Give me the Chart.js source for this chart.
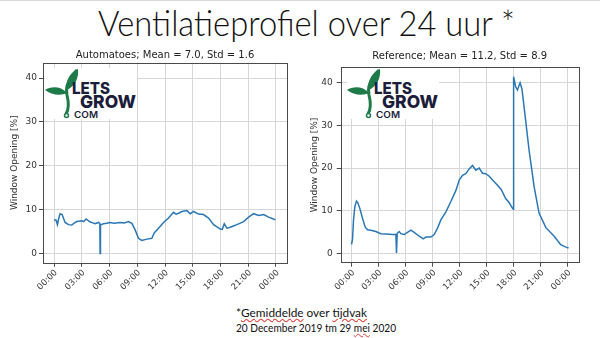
<!DOCTYPE html>
<html>
<head>
<meta charset="utf-8">
<script src="https://cdn.jsdelivr.net/npm/chart.js@4.4.0/dist/chart.umd.min.js"></script>
<style>
body { margin: 0; width: 600px; height: 338px; position: relative; overflow: hidden; background: #fff; }
.topline { position: absolute; left: 0; top: 0; width: 600px; height: 1px; background: #d9d9d9; }
#titel { position: absolute; left: 0; top: 0; white-space: nowrap; font-family: Lato, sans-serif; font-weight: 300; font-size: 36px; color: #111; transform-origin: 0 0; }
canvas { position: absolute; }
.logo { position: absolute; top: 68px; }
.voetnoot { position: absolute; left: 236px; font-family: Lato, sans-serif; font-size: 11.5px; line-height: 14px; color: #111; white-space: nowrap; transform-origin: 0 0; }
.rood { text-decoration: underline wavy #e04040; text-decoration-thickness: 1px; text-underline-offset: 1px; }
</style>
</head>
<body>
<div class="topline"></div>
<div id="titel">Ventilatieprofiel over 24 uur *</div>
<canvas id="automatoes" width="300" height="256" style="left:0;top:44px"></canvas>
<canvas id="referentie" width="300" height="256" style="left:300px;top:44px"></canvas>

<svg class="logo" style="left:45px" width="92" height="51" viewBox="0 0 92 51">
  <rect width="92" height="51" fill="#fff"/>
  <path d="M32,2 C24,10 20,18 22,27 C24,35 24,41 21,46" stroke="#1f7a4a" stroke-width="3" fill="none"/>
  <circle cx="21.5" cy="47.5" r="2" stroke="#1f7a4a" stroke-width="1.5" fill="#fff"/>
  <path d="M22,22 C20,12 26,4 33,1 C34,10 30,18 22,22 Z" fill="#1f7a4a"/>
  <path d="M22,25 C16,18 6,18 0,22 C6,27 16,28 22,25 Z" fill="#1f7a4a"/>
  <text x="27" y="25.5" font-family="Inter" font-weight="800" font-size="16" fill="#1b1d3a" textLength="38" lengthAdjust="spacingAndGlyphs">LETS</text>
  <text x="35" y="40" font-family="Inter" font-weight="800" font-size="18" fill="#1b1d3a" textLength="56" lengthAdjust="spacingAndGlyphs">GROW</text>
  <text x="29" y="50.3" font-family="Inter" font-weight="600" font-size="9" fill="#1b1d3a" textLength="24" lengthAdjust="spacingAndGlyphs">COM</text>
</svg>
<svg class="logo" style="left:347px" width="92" height="51" viewBox="0 0 92 51">
  <rect width="92" height="51" fill="#fff"/>
  <path d="M32,2 C24,10 20,18 22,27 C24,35 24,41 21,46" stroke="#1f7a4a" stroke-width="3" fill="none"/>
  <circle cx="21.5" cy="47.5" r="2" stroke="#1f7a4a" stroke-width="1.5" fill="#fff"/>
  <path d="M22,22 C20,12 26,4 33,1 C34,10 30,18 22,22 Z" fill="#1f7a4a"/>
  <path d="M22,25 C16,18 6,18 0,22 C6,27 16,28 22,25 Z" fill="#1f7a4a"/>
  <text x="27" y="25.5" font-family="Inter" font-weight="800" font-size="16" fill="#1b1d3a" textLength="38" lengthAdjust="spacingAndGlyphs">LETS</text>
  <text x="35" y="40" font-family="Inter" font-weight="800" font-size="18" fill="#1b1d3a" textLength="56" lengthAdjust="spacingAndGlyphs">GROW</text>
  <text x="29" y="50.3" font-family="Inter" font-weight="600" font-size="9" fill="#1b1d3a" textLength="24" lengthAdjust="spacingAndGlyphs">COM</text>
</svg>

<div class="voetnoot" id="regel1" style="top:306px">*<span class="rood">Gemiddelde</span> over <span class="rood">tijdvak</span></div>
<div class="voetnoot" id="regel2" style="top:321px">20 December 2019 tm 29 <span class="rood">mei</span> 2020</div>

<script>
// uren van de dag en raamopening [%]
const urenAutomatoes = [0, 0.22, 0.36, 0.5, 0.65, 0.87, 1.19, 1.55, 1.91, 2.2,
    2.45, 3.0, 3.2, 3.47, 3.9, 4.2, 4.44, 4.8, 4.95, 4.98,
    5.02, 5.09, 5.34, 5.7, 6.06, 6.5, 7.15, 7.6, 8.05, 8.41,
    8.77, 9.13, 9.49, 10.04, 10.58, 10.83, 11.3, 11.84, 12.38, 12.92,
    13.2, 13.47, 13.83, 14.37, 14.73, 15.09, 15.63, 16.17, 16.71, 17.26,
    17.98, 18.2, 18.41, 18.7, 19.06, 19.4, 19.78, 20.51, 21.05, 21.59,
    22.14, 22.67, 23.21, 23.94];
const opening_automatoes = [7.7, 7.6, 6.6, 8.0, 9.1, 8.9, 7.1, 6.6, 6.5, 7.0,
    7.3, 7.5, 7.3, 7.9, 7.2, 7.0, 6.8, 7.1, 6.9, 0,
    6.4, 6.6, 6.8, 6.9, 7.1, 6.9, 7.1, 7.0, 7.3, 6.9,
    5.4, 3.5, 3.0, 3.3, 3.5, 4.7, 5.8, 7.1, 8.1, 9.4,
    9.0, 9.2, 9.6, 9.8, 9.1, 9.6, 9.0, 8.9, 8.1, 6.6,
    5.6, 5.5, 6.8, 5.8, 6.0, 6.3, 6.6, 7.3, 8.3, 9.1,
    8.7, 8.9, 8.3, 7.7];

const urenReferentie = [0, 0.11, 0.22, 0.37, 0.55, 0.70, 0.92, 1.22, 1.52, 1.78,
    2.14, 2.70, 3.25, 3.81, 4.55, 4.92, 4.99, 5.07, 5.29, 5.47,
    5.84, 6.21, 6.58, 6.95, 7.51, 7.95, 8.25, 8.80, 9.17, 9.54,
    9.91, 10.47, 11.02, 11.58, 11.95, 12.31, 12.68, 13.05, 13.42, 13.79,
    14.16, 14.53, 14.9, 15.27, 15.64, 16.2, 16.6, 17.1, 17.5, 17.86,
    17.95, 17.98, 18.2, 18.4, 18.7, 18.9, 19.15, 19.7, 20.26, 20.8,
    21.56, 22.48, 23.2, 23.96, 24.0];
const opening_referentie = [2.2, 3.3, 7.9, 11.0, 12.3, 11.9, 10.6, 8.3, 6.2, 5.6,
    5.5, 5.2, 4.7, 4.6, 4.5, 4.5, 0.2, 4.8, 5.2, 4.7,
    4.5, 5.0, 5.5, 5.0, 4.1, 3.5, 3.9, 3.9, 4.5, 6.0,
    7.9, 9.8, 12.2, 14.8, 17.2, 18.3, 18.7, 19.8, 20.6, 19.5,
    20.0, 18.8, 18.7, 18.1, 17.2, 16.0, 15.0, 12.9, 11.9, 10.6,
    10.4, 41.3, 39.0, 38.2, 39.9, 38.5, 34.1, 24.1, 15.6, 9.5,
    6.1, 4.1, 2.15, 1.4, 1.6];

const xTicks = [0, 3, 6, 9, 12, 15, 18, 21, 24];
const yTicks = [0, 10, 20, 30, 40];

// lijst om het plotvlak (zoals matplotlib)
const kader = {
    id: 'kader',
    afterDraw(chart) {
        const a = chart.chartArea;
        const ctx = chart.ctx;
        ctx.save();
        ctx.strokeStyle = '#4a4a4a';
        ctx.lineWidth = 1;
        ctx.strokeRect(Math.round(a.left) + 0.5, Math.round(a.top) + 0.5,
            Math.round(a.right - a.left), Math.round(a.bottom - a.top));
        ctx.restore();
    }
};

function maakGrafiek(id, uren, waarden, titel, opties) {
    const ctx = document.getElementById(id).getContext('2d');
    return new Chart(ctx, {
        type: 'line',
        data: {
            datasets: [{
                data: uren.map((u, i) => ({ x: u, y: waarden[i] })),
                borderColor: '#2a77b4',
                borderWidth: 1.5,
                pointRadius: 0,
                tension: 0,
                fill: false
            }]
        },
        options: {
            responsive: false,
            animation: false,
            devicePixelRatio: 1,
            layout: { padding: { left: 0, right: opties.rechts, top: 0, bottom: 0 } },
            plugins: {
                legend: { display: false },
                tooltip: { enabled: false },
                title: {
                    display: true,
                    fullSize: false,
                    text: titel,
                    color: '#222',
                    font: { family: 'DejaVu Sans', size: 10, weight: 'normal' },
                    padding: { top: opties.titelBoven, bottom: opties.titelOnder }
                }
            },
            scales: {
                x: {
                    type: 'linear',
                    min: -1.2,
                    max: 25.2,
                    afterBuildTicks: s => { s.ticks = xTicks.map(v => ({ value: v })); },
                    afterFit: s => { s.height = 37.3; },
                    grid: { color: '#d6d6d6', tickColor: '#4a4a4a', tickLength: 4 },
                    border: { display: false },
                    ticks: {
                        autoSkip: false,
                        minRotation: 45,
                        maxRotation: 45,
                        padding: 1,
                        labelOffset: 2,
                        color: '#333',
                        font: { family: 'DejaVu Sans', size: 8.5 },
                        callback: v => String(v % 24).padStart(2, '0') + ':00'
                    }
                },
                y: {
                    min: -2.07,
                    max: 43.5,
                    afterBuildTicks: s => { s.ticks = yTicks.map(v => ({ value: v })); },
                    afterFit: s => { s.width = opties.yBreedte; },
                    grid: { color: '#d6d6d6', tickColor: '#4a4a4a', tickLength: 4 },
                    border: { display: false },
                    ticks: {
                        padding: opties.yPadding,
                        color: '#333',
                        font: { family: 'DejaVu Sans', size: 9 }
                    },
                    title: {
                        display: true,
                        text: 'Window Opening [%]',
                        color: '#333',
                        font: { family: 'DejaVu Sans', size: 9 },
                        padding: { top: 9.6, bottom: 0 }
                    }
                }
            }
        },
        plugins: [kader]
    });
}

maakGrafiek('automatoes', urenAutomatoes, opening_automatoes,
    'Automatoes; Mean = 7.0, Std = 1.6',
    { rechts: 13, titelBoven: 5, titelOnder: 1.7, yBreedte: 43, yPadding: 2 });
maakGrafiek('referentie', urenReferentie, opening_referentie,
    'Reference; Mean = 11.2, Std = 8.9',
    { rechts: 21.3, titelBoven: 6.7, titelOnder: 4.6, yBreedte: 40.7, yPadding: 4 });

// titel en voetnoot op breedte brengen
function opBreedte(el, breedte) {
    const b = el.getBoundingClientRect().width;
    el.style.transform = 'scaleX(' + (breedte / b) + ')';
}
const titel = document.getElementById('titel');
opBreedte(titel, 417);
titel.style.left = '97.6px';
titel.style.top = '-0.5px';
opBreedte(document.getElementById('regel1'), 131);
opBreedte(document.getElementById('regel2'), 160);
</script>
</body>
</html>
